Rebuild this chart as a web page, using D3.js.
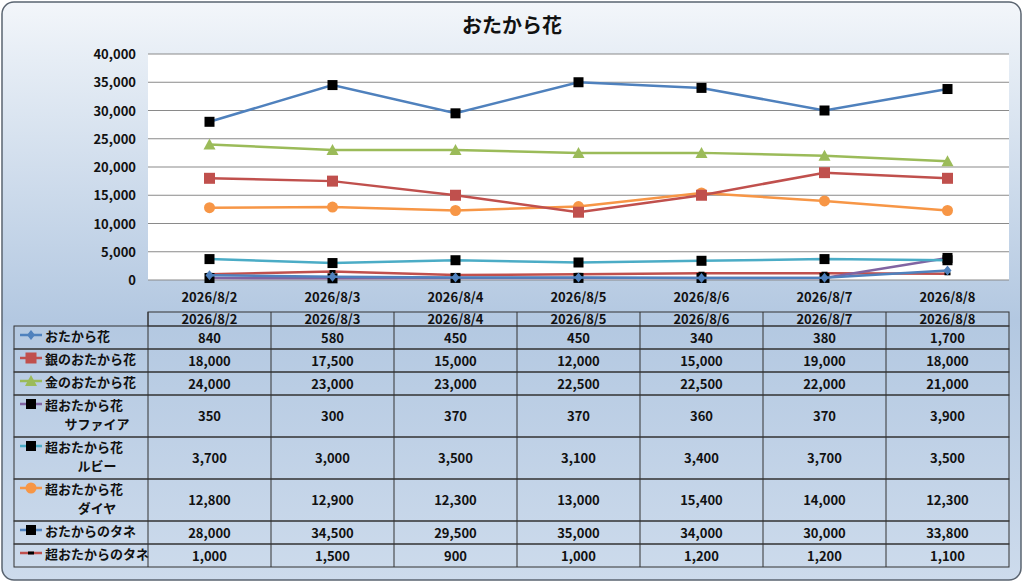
<!DOCTYPE html>
<html lang="ja">
<head>
<meta charset="UTF-8">
<script src="https://d3js.org/d3.v7.min.js"></script>
<style>
  body { margin: 0; background: #fff; }
  svg text { font-family: "Noto Sans CJK JP", sans-serif; fill: #111; }
</style>
</head>
<body>
<svg width="1024" height="583"></svg>
<script>
const dates = ["2026/8/2","2026/8/3","2026/8/4","2026/8/5","2026/8/6","2026/8/7","2026/8/8"];
const yTicks = [0,5000,10000,15000,20000,25000,30000,35000,40000];
const names = [["おたから花"],["銀のおたから花"],["金のおたから花"],["超おたから花","サファイア"],["超おたから花","ルビー"],["超おたから花","ダイヤ"],["おたからのタネ"],["超おたからのタネ"]];
const colors = ["#4f81bd","#c0504d","#9bbb59","#8064a2","#4bacc6","#f79646","#4f81bd","#c0504d"];
const markers = ["diamond","square","triangle","blacksq","blacksq","circle","blacksq","dash"];
const otakara = [840,580,450,450,340,380,1700];
const gin = [18000,17500,15000,12000,15000,19000,18000];
const kin = [24000,23000,23000,22500,22500,22000,21000];
const sapphire = [350,300,370,370,360,370,3900];
const ruby = [3700,3000,3500,3100,3400,3700,3500];
const diamond = [12800,12900,12300,13000,15400,14000,12300];
const tane = [28000,34500,29500,35000,34000,30000,33800];
const superTane = [1000,1500,900,1000,1200,1200,1100];
const series = [otakara,gin,kin,sapphire,ruby,diamond,tane,superTane];
const rowH = [23,23,23,42,42,42,23,23];

const svg = d3.select("svg");
const defs = svg.append("defs");
const g = defs.append("linearGradient").attr("id","bg").attr("x1",0).attr("y1",0).attr("x2",0).attr("y2",1);
g.append("stop").attr("offset","0%").attr("stop-color","#f3f6fa");
g.append("stop").attr("offset","10%").attr("stop-color","#e6edf5");
g.append("stop").attr("offset","55%").attr("stop-color","#b3c8e1");
g.append("stop").attr("offset","100%").attr("stop-color","#cddbec");
svg.append("rect").attr("x",2).attr("y",2).attr("width",1019).attr("height",578)
  .attr("rx",12).attr("fill","url(#bg)").attr("stroke","#5a6470").attr("stroke-width",1.5);

svg.append("text").attr("x",512).attr("y",33).attr("text-anchor","middle")
  .attr("font-size",20).attr("font-weight","bold").text("おたから花");

const pLeft = 148, pRight = 1009, pTop = 54, pBottom = 280;
const x = d3.scaleBand().domain(dates).range([pLeft,pRight]);
const y = d3.scaleLinear().domain([0,40000]).range([pBottom,pTop]);

svg.append("rect").attr("x",pLeft).attr("y",pTop).attr("width",pRight-pLeft).attr("height",pBottom-pTop).attr("fill","#fff");
svg.append("g").selectAll("line").data(yTicks).join("line")
  .attr("x1",pLeft).attr("x2",pRight).attr("y1",d=>y(d)).attr("y2",d=>y(d))
  .attr("stroke","#8a8a8a").attr("stroke-width",1.2);
svg.append("g").selectAll("text").data(yTicks).join("text")
  .attr("x",pLeft-12).attr("y",d=>y(d)+5).attr("text-anchor","end")
  .attr("font-size",13).attr("font-weight","bold").text(d=>d3.format(",")(d));
svg.append("g").selectAll("text").data(dates).join("text")
  .attr("x",d=>x(d)+x.bandwidth()/2).attr("y",pBottom+22).attr("text-anchor","middle")
  .attr("font-size",13).attr("font-weight","bold").text(d=>d);

function drawMarker(sel, type, color, cx, cy) {
  if (type === "diamond") sel.append("path").attr("d",`M${cx},${cy-5}L${cx+4},${cy}L${cx},${cy+5}L${cx-4},${cy}Z`).attr("fill",color);
  else if (type === "square") sel.append("rect").attr("x",cx-5.5).attr("y",cy-5.5).attr("width",11).attr("height",11).attr("fill",color);
  else if (type === "triangle") sel.append("path").attr("d",`M${cx},${cy-6}L${cx+6},${cy+5}L${cx-6},${cy+5}Z`).attr("fill",color);
  else if (type === "blacksq") sel.append("rect").attr("x",cx-5).attr("y",cy-5).attr("width",10).attr("height",10).attr("fill","#000");
  else if (type === "circle") sel.append("circle").attr("cx",cx).attr("cy",cy).attr("r",5.5).attr("fill",color);
  else if (type === "dash") sel.append("rect").attr("x",cx-3).attr("y",cy-1.5).attr("width",6).attr("height",3).attr("fill","#000");
}

const line = d3.line().x((d,i)=>x(dates[i])+x.bandwidth()/2).y(d=>y(d));
const order = [7,3,0,4,5,1,2,6];
order.forEach(k => {
  const gg = svg.append("g");
  gg.append("path").attr("d",line(series[k])).attr("fill","none").attr("stroke",colors[k]).attr("stroke-width",2.5);
  series[k].forEach((v,i)=>drawMarker(gg, markers[k], colors[k], x(dates[i])+x.bandwidth()/2, y(v)));
});

// data table
const tTop = 312, hdrH = 14, tLeft = 14;
const stroke = "#333";
svg.append("rect").attr("x",pLeft).attr("y",tTop).attr("width",pRight-pLeft).attr("height",hdrH).attr("fill","none").attr("stroke",stroke);
svg.append("g").selectAll("text").data(dates).join("text")
  .attr("x",d=>x(d)+x.bandwidth()/2).attr("y",tTop+12).attr("text-anchor","middle")
  .attr("font-size",13).attr("font-weight","bold").text(d=>d);
let ry = tTop + hdrH;
series.forEach((s,k) => {
  const h = rowH[k];
  svg.append("rect").attr("x",tLeft).attr("y",ry).attr("width",pRight-tLeft).attr("height",h).attr("fill","none").attr("stroke",stroke);
  svg.append("line").attr("x1",20).attr("x2",42).attr("y1",ry+9).attr("y2",ry+9).attr("stroke",colors[k]).attr("stroke-width",2.5);
  drawMarker(svg, markers[k], colors[k], 31, ry+9);
  names[k].forEach((n,j) => {
    svg.append("text").attr("x", j===0 ? 45 : 97).attr("y", ry+15+j*19).attr("text-anchor", j===0 ? "start" : "middle")
      .attr("font-size",13).attr("font-weight","bold").text(n);
  });
  s.forEach((v,i) => {
    svg.append("text").attr("x",x(dates[i])+x.bandwidth()/2).attr("y",ry+h/2+5).attr("text-anchor","middle")
      .attr("font-size",13).attr("font-weight","bold").text(d3.format(",")(v));
  });
  ry += h;
});
svg.append("g").selectAll("line").data(dates).join("line")
  .attr("x1",d=>x(d)).attr("x2",d=>x(d)).attr("y1",tTop).attr("y2",ry).attr("stroke",stroke);
</script>
</body>
</html>
